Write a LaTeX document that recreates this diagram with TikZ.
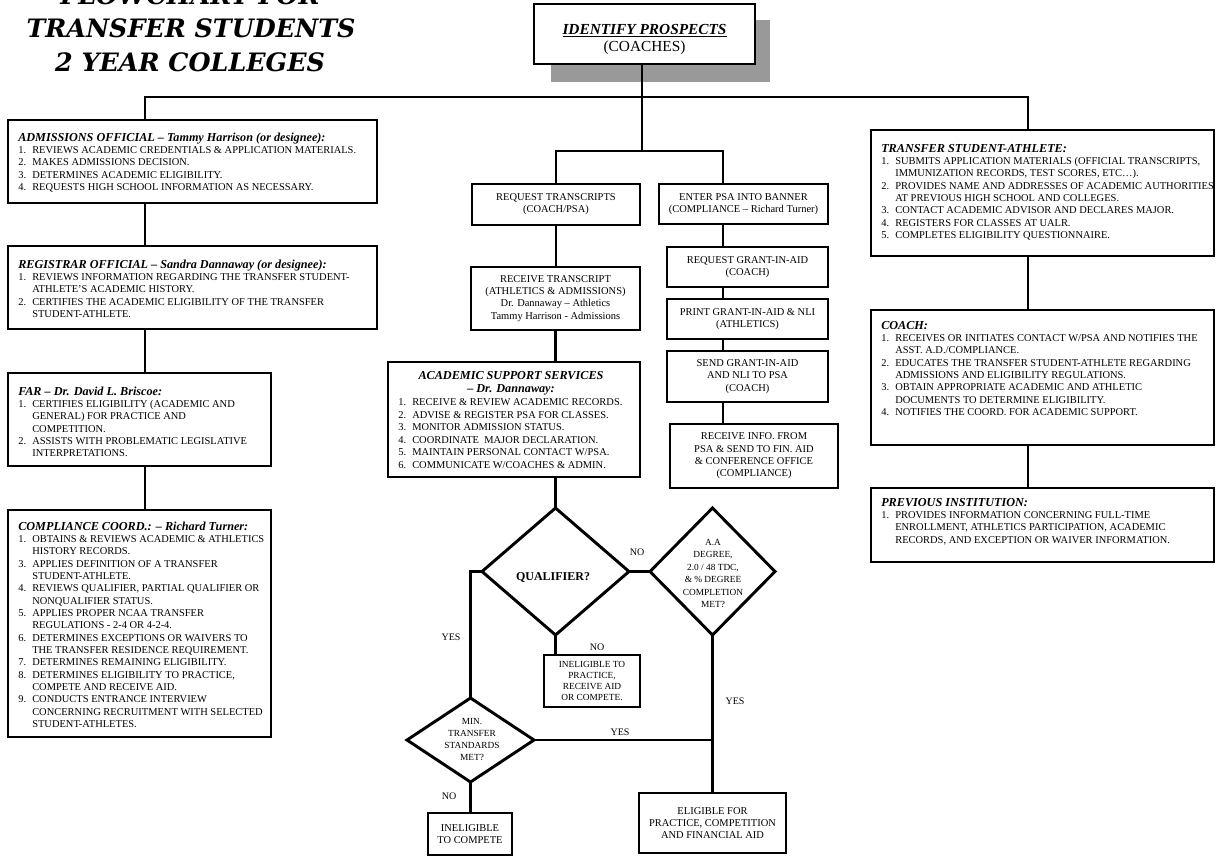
\documentclass[tikz,border=0pt]{standalone}
\usepackage{fontspec}
\setmainfont{Liberation Serif}
\newfontfamily\titlefont{DejaVu Serif}
\usetikzlibrary{shapes.geometric}
\definecolor{shadowgray}{RGB}{153,153,153}
% bold italic heading inside a text block
\newcommand\hd[1]{{\fontsize{9.15}{9.2}\selectfont\bfseries\itshape #1}}
% hanging item number
\newcommand\itemno[1]{\makebox[10.5pt][l]{#1}}
% framed box given by its corners (pixel units): [options]{name}{x1}{y1}{x2}{y2}{text}
\newcommand\boxnode[7][]{\node[box,#1,minimum width={(#5-#3)*0.75pt},minimum height={(#6-#4)*0.75pt}] (#2) at ({(#3+#5)/2},{(#4+#6)/2}) {#7};}

\begin{document}
\begin{tikzpicture}[x=0.75pt,y=-0.75pt,
  box/.style={draw,line width=2.2pt,fill=white,inner sep=0pt,outer sep=0pt,align=center,
    font=\fontsize{7.85}{9.2}\selectfont},
  dec/.style={diamond,draw,line width=2.2pt,inner sep=0pt,outer sep=0pt},
  conn/.style={line width=2.2pt},
  body/.style={inner sep=0pt,anchor=base west,font=\fontsize{7.85}{9.25}\selectfont},
  dtext/.style={align=center,inner sep=0pt,font=\fontsize{7}{9.4}\selectfont},
  lbl/.style={inner sep=0pt,font=\fontsize{7.5}{9}\selectfont},
  ttl/.style={inner sep=0pt,anchor=base,font=\titlefont\bfseries\itshape\fontsize{19}{25}\selectfont}
]
\useasboundingbox (0,0) rectangle (1217,858);

% ---- title ----
\node[ttl] (title1) at (190,4) {FLOWCHART FOR};
\node[ttl] (title2) at (191,37) {TRANSFER STUDENTS};
\node[ttl] (title3) at (190,71) {2 YEAR COLLEGES};

% ---- top box with drop shadow ----
\fill[shadowgray] (551,20) rectangle (770,82);
\boxnode{idp}{534}{4}{755}{64}{}
\node[align=center,inner sep=0pt,font=\fontsize{11.5}{12.75}\selectfont] (idpT) at (644.5,39.5)
  {\textbf{\textit{\underline{IDENTIFY PROSPECTS}}}\\(COACHES)};

% ---- left column ----
\boxnode{adm}{8}{120}{377}{203}{}
\boxnode{reg}{8}{246}{377}{329}{}
\boxnode{far}{8}{373}{271}{466}{}
\boxnode{comp}{8}{510}{271}{737}{}

\node[body] (admT) at (18,141) {\begin{tabular}[t]{@{}l@{}}
\hd{ADMISSIONS OFFICIAL – Tammy Harrison (or designee):}\\
\itemno{1.}REVIEWS ACADEMIC CREDENTIALS \& APPLICATION MATERIALS.\\
\itemno{2.}MAKES ADMISSIONS DECISION.\\
\itemno{3.}DETERMINES ACADEMIC ELIGIBILITY.\\
\itemno{4.}REQUESTS HIGH SCHOOL INFORMATION AS NECESSARY.
\end{tabular}};

\node[body] (regT) at (18,268) {\begin{tabular}[t]{@{}l@{}}
\hd{REGISTRAR OFFICIAL – Sandra Dannaway (or designee):}\\
\itemno{1.}REVIEWS INFORMATION REGARDING THE TRANSFER STUDENT-\\
\itemno{}ATHLETE’S ACADEMIC HISTORY.\\
\itemno{2.}CERTIFIES THE ACADEMIC ELIGIBILITY OF THE TRANSFER\\
\itemno{}STUDENT-ATHLETE.
\end{tabular}};

\node[body] (farT) at (18,395) {\begin{tabular}[t]{@{}l@{}}
\hd{FAR – Dr. David L. Briscoe:}\\
\itemno{1.}CERTIFIES ELIGIBILITY (ACADEMIC AND\\
\itemno{}GENERAL) FOR PRACTICE AND\\
\itemno{}COMPETITION.\\
\itemno{2.}ASSISTS WITH PROBLEMATIC LEGISLATIVE\\
\itemno{}INTERPRETATIONS.
\end{tabular}};

\node[body] (compT) at (18,530) {\begin{tabular}[t]{@{}l@{}}
\hd{COMPLIANCE COORD.: – Richard Turner:}\\
\itemno{1.}OBTAINS \& REVIEWS ACADEMIC \& ATHLETICS\\
\itemno{}HISTORY RECORDS.\\
\itemno{3.}APPLIES DEFINITION OF A TRANSFER\\
\itemno{}STUDENT-ATHLETE.\\
\itemno{4.}REVIEWS QUALIFIER, PARTIAL QUALIFIER OR\\
\itemno{}NONQUALIFIER STATUS.\\
\itemno{5.}APPLIES PROPER NCAA TRANSFER\\
\itemno{}REGULATIONS - 2-4 OR 4-2-4.\\
\itemno{6.}DETERMINES EXCEPTIONS OR WAIVERS TO\\
\itemno{}THE TRANSFER RESIDENCE REQUIREMENT.\\
\itemno{7.}DETERMINES REMAINING ELIGIBILITY.\\
\itemno{8.}DETERMINES ELIGIBILITY TO PRACTICE,\\
\itemno{}COMPETE AND RECEIVE AID.\\
\itemno{9.}CONDUCTS ENTRANCE INTERVIEW\\
\itemno{}CONCERNING RECRUITMENT WITH SELECTED\\
\itemno{}STUDENT-ATHLETES.
\end{tabular}};

% ---- right column ----
\boxnode{tsa}{871}{130}{1214}{256}{}
\boxnode{coach}{871}{310}{1214}{445}{}
\boxnode{prev}{871}{488}{1214}{562}{}

\node[body] (tsaT) at (881,152) {\begin{tabular}[t]{@{}l@{}}
\hd{TRANSFER STUDENT-ATHLETE:}\\
\itemno{1.}SUBMITS APPLICATION MATERIALS (OFFICIAL TRANSCRIPTS,\\
\itemno{}IMMUNIZATION RECORDS, TEST SCORES, ETC…).\\
\itemno{2.}PROVIDES NAME AND ADDRESSES OF ACADEMIC AUTHORITIES\\
\itemno{}AT PREVIOUS HIGH SCHOOL AND COLLEGES.\\
\itemno{3.}CONTACT ACADEMIC ADVISOR AND DECLARES MAJOR.\\
\itemno{4.}REGISTERS FOR CLASSES AT UALR.\\
\itemno{5.}COMPLETES ELIGIBILITY QUESTIONNAIRE.
\end{tabular}};

\node[body] (coachT) at (881,329) {\begin{tabular}[t]{@{}l@{}}
\hd{COACH:}\\
\itemno{1.}RECEIVES OR INITIATES CONTACT W/PSA AND NOTIFIES THE\\
\itemno{}ASST. A.D./COMPLIANCE.\\
\itemno{2.}EDUCATES THE TRANSFER STUDENT-ATHLETE REGARDING\\
\itemno{}ADMISSIONS AND ELIGIBILITY REGULATIONS.\\
\itemno{3.}OBTAIN APPROPRIATE ACADEMIC AND ATHLETIC\\
\itemno{}DOCUMENTS TO DETERMINE ELIGIBILITY.\\
\itemno{4.}NOTIFIES THE COORD. FOR ACADEMIC SUPPORT.
\end{tabular}};

\node[body] (prevT) at (881,506) {\begin{tabular}[t]{@{}l@{}}
\hd{PREVIOUS INSTITUTION:}\\
\itemno{1.}PROVIDES INFORMATION CONCERNING FULL-TIME\\
\itemno{}ENROLLMENT, ATHLETICS PARTICIPATION, ACADEMIC\\
\itemno{}RECORDS, AND EXCEPTION OR WAIVER INFORMATION.
\end{tabular}};

% ---- middle: transcripts and academic support ----
\boxnode{rt}{472}{184}{640}{225}{REQUEST TRANSCRIPTS\\(COACH/PSA)}
\boxnode{rtr}{471}{267}{640}{330}{RECEIVE TRANSCRIPT\\(ATHLETICS \& ADMISSIONS)\\Dr. Dannaway – Athletics\\Tammy Harrison - Admissions}
\boxnode{acad}{388}{362}{640}{477}{}
\node[align=center,inner sep=0pt,font=\fontsize{9.15}{9.75}\selectfont\bfseries\itshape] (acadH) at (511,383.5)
  {ACADEMIC SUPPORT SERVICES\\– Dr. Dannaway:};
\node[body,font=\fontsize{7.85}{9.45}\selectfont] (acadT) at (398,405.5) {\begin{tabular}[t]{@{}l@{}}
\itemno{1.}RECEIVE \& REVIEW ACADEMIC RECORDS.\\
\itemno{2.}ADVISE \& REGISTER PSA FOR CLASSES.\\
\itemno{3.}MONITOR ADMISSION STATUS.\\
\itemno{4.}COORDINATE\ \ MAJOR DECLARATION.\\
\itemno{5.}MAINTAIN PERSONAL CONTACT W/PSA.\\
\itemno{6.}COMMUNICATE W/COACHES \& ADMIN.
\end{tabular}};

% ---- middle: grant-in-aid column ----
\boxnode{enter}{659}{184}{828}{224}{ENTER PSA INTO BANNER\\(COMPLIANCE – Richard Turner)}
\boxnode{rga}{667}{247}{828}{287}{REQUEST GRANT-IN-AID\\(COACH)}
\boxnode{pga}{667}{299}{828}{339}{PRINT GRANT-IN-AID \& NLI\\(ATHLETICS)}
\boxnode{sga}{667}{351}{828}{402}{SEND GRANT-IN-AID\\AND NLI TO PSA\\(COACH)}
\boxnode{rif}{670}{424}{838}{488}{RECEIVE INFO. FROM\\PSA \& SEND TO FIN. AID\\\& CONFERENCE OFFICE\\(COMPLIANCE)}

% ---- decisions ----
\node[dec,minimum width=147*0.75pt,minimum height=127*0.75pt] (q) at (555.5,571.5) {};
\node[inner sep=0pt,font=\fontsize{9}{10}\selectfont\bfseries] (qT) at (553,577) {QUALIFIER?};
\node[dec,minimum width=125*0.75pt,minimum height=127*0.75pt] (aa) at (712.5,571.5) {};
\node[dtext] (aaT) at (713,573.5) {A.A\\DEGREE,\\2.0 / 48 TDC,\\\& \% DEGREE\\COMPLETION\\MET?};
\node[dec,minimum width=127*0.75pt,minimum height=84*0.75pt] (mts) at (470.5,740) {};
\node[dtext,font=\fontsize{7}{9.2}\selectfont] (mtsT) at (472,739.5) {MIN.\\TRANSFER\\STANDARDS\\MET?};

% ---- outcomes ----
\boxnode[font=\fontsize{7}{8.25}\selectfont]{inelA}{544}{655}{640}{707}{INELIGIBLE TO\\PRACTICE,\\RECEIVE AID\\OR COMPETE.}
\boxnode{inelB}{428}{813}{512}{855}{INELIGIBLE\\TO COMPETE}
\boxnode{elig}{639}{793}{786}{853}{ELIGIBLE FOR\\PRACTICE, COMPETITION\\AND FINANCIAL AID}

% ---- connectors ----
\coordinate (barL) at (145,97);
\coordinate (barC) at (642,97);
\coordinate (barR) at (1028,97);
\coordinate (split) at (642,151);
\coordinate (splitR) at (723,151);

\draw[conn] (idp.south -| barC) -- (split);
\draw[conn] (adm.north -| barL) |- (barR) -- (tsa.north -| barR);
\draw[conn] (rt.north) |- (splitR) -- (enter.north -| splitR);

\draw[conn] (adm.south -| barL) -- (reg.north -| barL);
\draw[conn] (reg.south -| barL) -- (far.north -| barL);
\draw[conn] (far.south -| barL) -- (comp.north -| barL);

\draw[conn] (tsa.south -| barR) -- (coach.north -| barR);
\draw[conn] (coach.south -| barR) -- (prev.north -| barR);

\draw[conn] (rt.south) -- (rt.south |- rtr.north);
\draw[conn] (rtr.south) -- (rtr.south |- acad.north);
\draw[conn] (acad.south -| q.north) -- (q.north);

\draw[conn] (enter.south -| splitR) -- (rga.north -| splitR);
\draw[conn] (rga.south -| splitR) -- (pga.north -| splitR);
\draw[conn] (pga.south -| splitR) -- (sga.north -| splitR);
\draw[conn] (sga.south -| splitR) -- (rif.north -| splitR);

\draw[conn] (q.west) -| (mts.north);
\draw[conn] (q.east) -- (aa.west);
\draw[conn] (q.south) -- (q.south |- inelA.north);
\draw[conn] (aa.south) -- (aa.south |- elig.north);
\draw[conn] (mts.east) -- (mts.east -| aa.south);
\draw[conn] (mts.south) -- (mts.south |- inelB.north);

% ---- branch labels ----
\node[lbl] (yes1) at (451,637) {YES};
\node[lbl] (no1) at (637,552) {NO};
\node[lbl] (no2) at (597,647) {NO};
\node[lbl] (yes2) at (620,732) {YES};
\node[lbl] (yes3) at (735,701) {YES};
\node[lbl] (no3) at (449,796) {NO};
\end{tikzpicture}
\end{document}
